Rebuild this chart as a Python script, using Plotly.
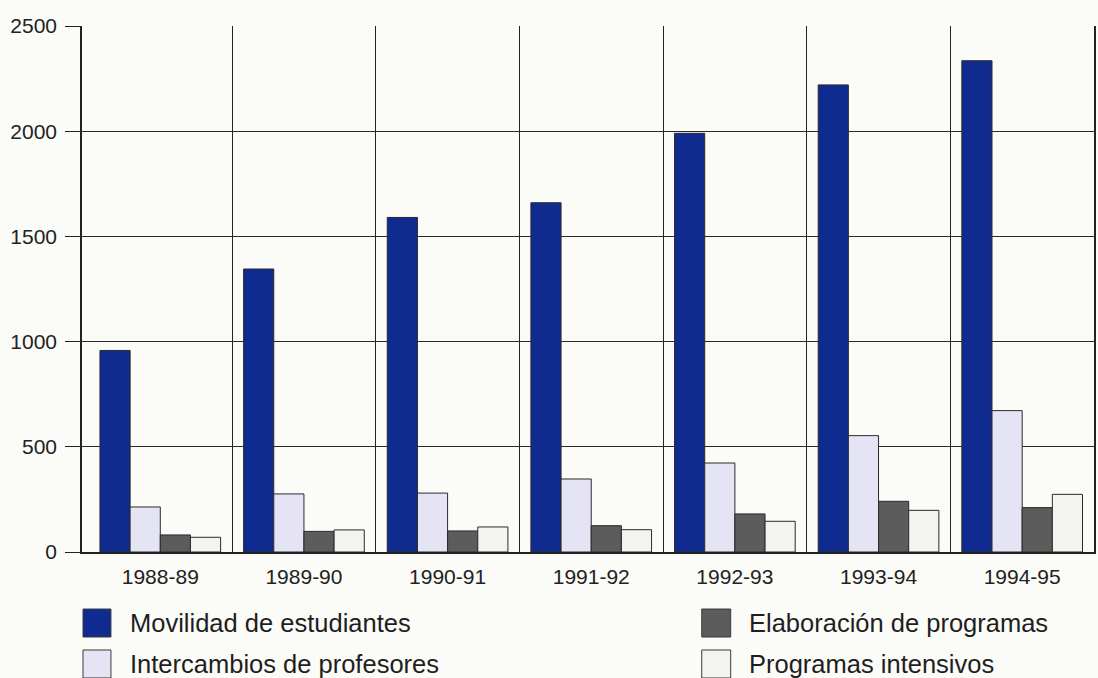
import plotly.graph_objects as go

categories = ["1988-89", "1989-90", "1990-91", "1991-92", "1992-93", "1993-94", "1994-95"]
movilidad = [958, 1345, 1590, 1660, 1990, 2220, 2335]
intercambios = [214, 276, 280, 347, 423, 553, 672]
elaboracion = [81, 98, 100, 125, 181, 241, 211]
intensivos = [70, 105, 119, 106, 146, 198, 274]

series_names = ["Movilidad de estudiantes", "Intercambios de profesores",
                "Elaboración de programas", "Programas intensivos"]
series_values = [movilidad, intercambios, elaboracion, intensivos]
series_colors = ["#0f2b8f", "#e4e4f4", "#5c5c5c", "#f3f3ef"]

y_ticks = [0, 500, 1000, 1500, 2000, 2500]

FONT = "Liberation Sans, Arial, Helvetica, sans-serif"
x_pos = list(range(len(categories)))

fig = go.Figure()
for name, vals, col in zip(series_names, series_values, series_colors):
    fig.add_trace(go.Bar(
        x=x_pos, y=vals, name=name,
        marker=dict(color=col, line=dict(color="#2a2a2a", width=1)),
        showlegend=False,
    ))

# manual legend (large swatches like the original)
legend_layout = [  # (x0, x1, y0, y1, text_x, text_y) in paper coords
    (0.001, 0.0286, -0.1084, -0.1616, 0.0454, -0.135),
    (0.001, 0.0286, -0.1863, -0.2395, 0.0454, -0.213),
    (0.6124, 0.641, -0.1084, -0.1616, 0.6568, -0.135),
    (0.6124, 0.641, -0.1863, -0.2395, 0.6568, -0.213),
]
for (x0, x1, y0, y1, tx, ty), name, col in zip(legend_layout, series_names, series_colors):
    fig.add_shape(type="rect", xref="paper", yref="paper", x0=x0, x1=x1, y0=y0, y1=y1,
                  fillcolor=col, line=dict(color="#3a3a3a", width=1))
    fig.add_annotation(xref="paper", yref="paper", x=tx, y=ty, text=name,
                       showarrow=False, xanchor="left", yanchor="middle",
                       font=dict(family=FONT, size=25.5, color="#1e1e1e"))

fig.update_layout(
    width=1098, height=678,
    margin=dict(l=82, r=2, t=26, b=126),
    paper_bgcolor="#fbfbf8", plot_bgcolor="#fbfbf8",
    barmode="group", bargap=0.16, bargroupgap=0,
    font=dict(family=FONT, size=21, color="#222222"),
)
fig.update_xaxes(
    range=[-0.545, 6.5], tickmode="array", tickvals=x_pos, ticktext=categories,
    showgrid=False, zeroline=False,
    showline=True, linecolor="#222222", linewidth=1.5,
    ticks="outside", ticklen=5, tickcolor="rgba(0,0,0,0)",
    tickfont=dict(family=FONT, size=21, color="#222222"),
    minor=dict(tickmode="array", tickvals=[0.5, 1.5, 2.5, 3.5, 4.5, 5.5],
               showgrid=True, gridcolor="#222222", gridwidth=1.2, ticks=""),
)
fig.update_yaxes(
    range=[0, 2500], tickmode="array", tickvals=y_ticks,
    showgrid=True, gridcolor="#2a2a2a", gridwidth=1.2, zeroline=False,
    showline=True, linecolor="#222222", linewidth=1.5, mirror=True,
    ticks="outside", ticklen=15, tickcolor="#222222", tickwidth=1.2,
    ticklabelstandoff=4,
    tickfont=dict(family=FONT, size=21, color="#222222"),
)

fig.write_html("out.html")
